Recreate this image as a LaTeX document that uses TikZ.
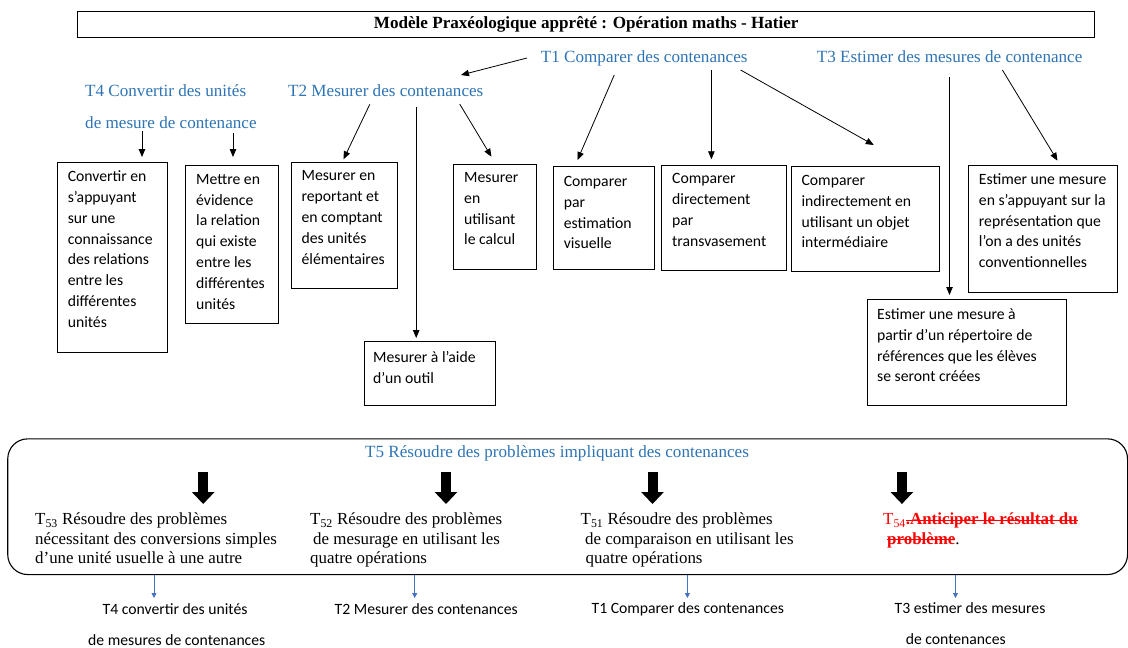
\documentclass[tikz,border=0pt]{standalone}
\usepackage{fontspec}
\setmainfont{Liberation Serif}
\newfontfamily\carl{Carlito}
\newsavebox\strkbox
\newcommand\strk[1]{\sbox\strkbox{#1}\rlap{\usebox\strkbox}\rule[0.27em]{\wd\strkbox}{0.8pt}}
\usetikzlibrary{arrows.meta}
\definecolor{tblue}{RGB}{46,116,181}
\definecolor{ablue}{RGB}{68,114,196}
\begin{document}
\begin{tikzpicture}[x=1pt,y=-1pt,
  frame/.style={draw, line width=0.9pt, inner sep=0pt, outer sep=0pt, anchor=north west},
  btxt/.style={anchor=north west, align=left, inner sep=0pt, font=\carl\fontsize{15.7}{20.8}\selectfont},
  tlab/.style={anchor=north west, align=left, inner sep=0pt, text=tblue, font=\fontsize{17.1}{32.6}\selectfont},
  subt/.style={anchor=north west, align=left, inner sep=0pt, font=\fontsize{16.9}{19.3}\selectfont},
  blab/.style={anchor=north west, align=left, inner sep=0pt, font=\carl\fontsize{15.7}{31.7}\selectfont},
  arr/.style={-{Triangle[length=8pt,width=6.5pt]}, line width=0.8pt},
  bigarr/.style={-{Triangle[length=12pt,width=22pt]}, line width=10pt},
  barr/.style={ablue, -{Triangle[length=5pt,width=5pt]}, line width=0.8pt}]
\useasboundingbox (0,0) rectangle (1128,648);

% title
\node[draw, line width=1.1pt, inner sep=0pt, anchor=north west, minimum width=1016.7, minimum height=25.7,
  font=\bfseries\fontsize{17.1}{20}\selectfont] (title) at (77.3,11) {Modèle Praxéologique apprêté : Opération maths - Hatier};

% task labels
\node[tlab] (t1) at (540.75,50.8) {T1 Comparer des contenances};
\node[tlab] (t3) at (816.75,50.8) {T3 Estimer des mesures de contenance};
\node[tlab] (t2) at (288,84.2) {T2 Mesurer des contenances};
\node[tlab] (t4) at (85,84.2) {T4 Convertir des unités\\de mesure de contenance};

% boxes
\node[frame, minimum width=109.8, minimum height=189.3] (b1) at (57.5,162.7) {};
\node[btxt] (x1) at (67.6,170.7) {Convertir en\\s’appuyant\\sur une\\connaissance\\des relations\\entre les\\différentes\\unités};
\node[frame, minimum width=92.8, minimum height=158.3] (b2) at (185.6,165) {};
\node[btxt] (x2) at (196,174) {Mettre en\\évidence\\la relation\\qui existe\\entre les\\différentes\\unités};
\node[frame, minimum width=105.6, minimum height=125.6] (b3) at (291.4,162.7) {};
\node[btxt] (x3) at (301.4,170.7) {Mesurer en\\reportant et\\en comptant\\des unités\\élémentaires};
\node[frame, minimum width=83, minimum height=105.3] (b4) at (453,164) {};
\node[btxt] (x4) at (464,172.3) {Mesurer\\en\\utilisant\\le calcul};
\node[frame, minimum width=131, minimum height=64] (b5) at (364,341) {};
\node[btxt] (x5) at (373,351.5) {Mesurer à l’aide\\d’un outil};
\node[frame, minimum width=100.5, minimum height=102.6] (b6) at (553.5,166.7) {};
\node[btxt] (x6) at (563.6,176.2) {Comparer\\par\\estimation\\visuelle};
\node[frame, minimum width=124.5, minimum height=105.7] (b7) at (661.9,165) {};
\node[btxt] (x7) at (672,173.5) {Comparer\\directement\\par\\transvasement};
\node[frame, minimum width=148.5, minimum height=105] (b8) at (791.25,166.7) {};
\node[btxt] (x8) at (801.4,175.2) {Comparer\\indirectement en\\utilisant un objet\\intermédiaire};
\node[frame, minimum width=149.25, minimum height=127] (b9) at (968.25,165) {};
\node[btxt] (x9) at (978.75,173.5) {Estimer une mesure\\en s’appuyant sur la\\représentation que\\l’on a des unités\\conventionnelles};
\node[frame, minimum width=199, minimum height=106] (b10) at (867,299) {};
\node[btxt] (x10) at (877,308.5) {Estimer une mesure à\\partir d’un répertoire de\\références que les élèves\\se seront créées};

% arrows from tasks
\draw[arr] ([shift={(-13.75,7.2)}]t1.north west) -- ([shift={(173,-9.2)}]t2.north west);
\draw[arr] ([shift={(81.8,20.1)}]t2.north west) -- ([shift={(52.1,-3.4)}]b3.north west);
\draw[arr] ([shift={(128.2,23.1)}]t2.north west) -- ([shift={(52.2,-3)}]b5.north west);
\draw[arr] ([shift={(171.7,19.8)}]t2.north west) -- ([shift={(38.4,-7.3)}]b4.north west);
\draw[arr] ([shift={(57,46.8)}]t4.north west) -- ([shift={(84.5,-5.7)}]b1.north west);
\draw[arr] ([shift={(148,48.5)}]t4.north west) -- ([shift={(47.4,-8)}]b2.north west);
\draw[arr] ([shift={(73.5,24.2)}]t1.north west) -- ([shift={(24,-6.7)}]b6.north west);
\draw[arr] ([shift={(170.65,19.2)}]t1.north west) -- ([shift={(49.5,-5.7)}]b7.north west);
\draw[arr] ([shift={(199.85,19.2)}]t1.north west) -- ([shift={(82.5,-21.7)}]b8.north west);
\draw[arr] ([shift={(132.75,26.5)}]t3.north west) -- ([shift={(82.5,-4)}]b10.north west);
\draw[arr] ([shift={(185.65,19.2)}]t3.north west) -- ([shift={(89.25,-4.3)}]b9.north west);

% T5 block
\node[draw, line width=1.1pt, rounded corners=20pt, inner sep=0pt, anchor=north west,
  minimum width=1119.8, minimum height=135.7] (t5box) at (7.2,438.3) {};
\node[tlab] (t5) at (365,445.2) {T5 Résoudre des problèmes impliquant des contenances};

\node[subt] (s53) at (35,513) {T\textsubscript{53} Résoudre des problèmes\\nécessitant des conversions simples\\d’une unité usuelle à une autre};
\node[subt] (s52) at (310,513) {T\textsubscript{52} Résoudre des problèmes\\\hspace*{3pt}de mesurage en utilisant les\\quatre opérations};
\node[subt] (s51) at (580.5,513) {T\textsubscript{51} Résoudre des problèmes\\\hspace*{4.5pt}de comparaison en utilisant les\\\hspace*{5pt}quatre opérations};
\node[subt] (s54) at (883,513) {\color{red}T\textsubscript{54}\strk{\bfseries.Anticiper le résultat du}\\\hspace*{4pt}{\color{red}\strk{\bfseries problème}}.};

\draw[bigarr] ([shift={(-161.8,26.8)}]t5.north west) -- ([shift={(168.2,-9)}]s53.north west);
\draw[bigarr] ([shift={(81,26.8)}]t5.north west) -- ([shift={(136,-9)}]s52.north west);
\draw[bigarr] ([shift={(287.5,26.8)}]t5.north west) -- ([shift={(72,-9)}]s51.north west);
\draw[bigarr] ([shift={(536.9,26.8)}]t5.north west) -- ([shift={(18.9,-9)}]s54.north west);

% bottom labels
\node[blab] (l4) at (88,603) {\hspace*{14.5pt}T4 convertir des unités\\de mesures de contenances};
\node[blab] (l2) at (334.5,603) {T2 Mesurer des contenances};
\node[blab] (l1) at (591.4,602.3) {T1 Comparer des contenances};
\node[blab] (l3) at (894.4,602) {T3 estimer des mesures\\\hspace*{11.2pt}de contenances};

\draw[barr] ([shift={(146.8,0)}]t5box.south west) -- ([shift={(66,-5)}]l4.north west);
\draw[barr] ([shift={(407.5,0)}]t5box.south west) -- ([shift={(80.2,-5)}]l2.north west);
\draw[barr] ([shift={(680.2,0)}]t5box.south west) -- ([shift={(96,-4.3)}]l1.north west);
\draw[barr] ([shift={(948.3,0)}]t5box.south west) -- ([shift={(61.1,-4)}]l3.north west);
\end{tikzpicture}
\end{document}
